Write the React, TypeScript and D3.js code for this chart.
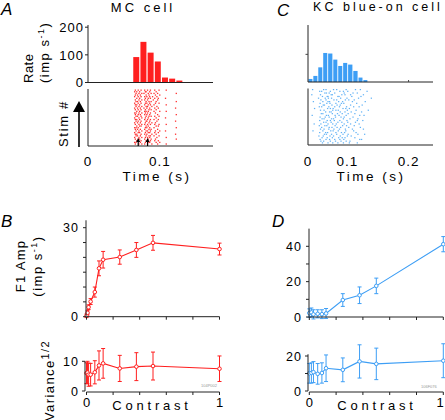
import React from "react";
import * as d3 from "d3";

const FONT = "'Liberation Sans', Arial, Helvetica, sans-serif";
const RED = "#ff1f1f";
const BLUE = "#3d9ef5";

// ---------- Panel A: MC cell, PSTH + raster ----------
const mcBinStart = [0.063, 0.073, 0.083, 0.093, 0.103, 0.113, 0.123];
const mcBinWidth = 0.01;
const mcRate = [92, 147, 108, 76, 18, 14, 7];
const rateTicks = [0, 100, 200];
const aTimeTicks = [0, 0.1];
const mcArrows = [0.0699, 0.0829];
// spike times (ms) for each stimulus repeat
const mcRaster: number[][] = [
  [65, 69, 73, 78, 82, 86, 92, 98, 108],
  [64, 67, 71, 79, 80, 85, 94],
  [66, 70, 74, 77, 83, 87, 91, 96, 122],
  [65, 68, 72, 80, 84, 93, 99],
  [64, 69, 73, 78, 81, 85, 89, 95],
  [67, 71, 79, 83, 86, 92, 97, 107],
  [65, 70, 74, 78, 82, 90, 96],
  [66, 68, 72, 80, 84, 87, 94, 122],
  [64, 69, 73, 79, 81, 85, 93, 98],
  [65, 67, 71, 78, 83, 86, 91, 108],
  [66, 70, 74, 80, 82, 88, 95],
  [64, 68, 72, 77, 81, 85, 92, 97, 121],
  [65, 69, 73, 79, 84, 87, 94],
  [67, 71, 78, 80, 83, 91, 99, 108],
  [64, 66, 70, 74, 79, 82, 86, 93],
  [65, 69, 72, 78, 81, 85, 96, 122],
  [66, 68, 73, 80, 84, 87, 92, 98],
  [64, 70, 74, 79, 83, 94, 107],
  [65, 67, 71, 78, 82, 86, 91, 97],
  [66, 69, 73, 80, 81, 85, 95, 121],
  [64, 68, 72, 79, 84, 88, 93],
  [65, 70, 74, 78, 82, 86, 92, 98, 108],
  [67, 71, 73, 80, 83, 94, 97],
  [64, 66, 69, 79, 81, 85, 91, 122],
  [65, 68, 72, 78, 84, 87, 96],
  [66, 70, 74, 80, 82, 86, 93, 99, 107],
  [64, 69, 71, 79, 83, 85, 92, 97],
  [65, 67, 73, 78, 81, 88, 94, 121],
  [66, 68, 72, 80, 84, 86, 91, 98],
  [64, 70, 74, 79, 82, 85, 95, 108],
  [65, 69, 71, 78, 83, 87, 93, 122],
  [67, 68, 73, 80, 81, 86, 92, 97],
  [64, 66, 72, 79, 84, 85, 94, 99],
  [65, 70, 74, 78, 82, 88, 96, 108],
];

// ---------- Panel C: KC blue-on cell ----------
const kcBinEdges = [0.001, 0.0135, 0.026, 0.0385, 0.051, 0.064, 0.0765, 0.089, 0.101, 0.1095, 0.118, 0.126, 0.134];
const kcRate = [11, 22, 53, 105, 103, 81, 58, 69, 63, 40, 16, 7];
const cRateTicks = [100];
const cTimeTicks = [0, 0.1, 0.2];
const kcRaster: number[][] = [
  [10, 38, 44, 63, 71, 95, 112, 120],
  [28, 33, 55, 79, 88, 99, 131],
  [41, 45, 52, 66, 90, 108, 115],
  [8, 30, 57, 60, 84, 92, 104, 125],
  [35, 47, 49, 74, 77, 106, 121],
  [25, 42, 50, 58, 81, 97, 117, 138],
  [31, 44, 64, 71, 93, 101, 110],
  [12, 36, 49, 53, 76, 86, 107, 128],
  [29, 46, 54, 69, 83, 89, 114],
  [37, 40, 59, 72, 80, 104, 123],
  [27, 33, 51, 66, 78, 96, 109, 118],
  [15, 48, 55, 62, 87, 94, 102],
  [30, 39, 61, 69, 75, 98, 113, 133],
  [43, 53, 57, 80, 92, 105, 122],
  [32, 36, 60, 73, 85, 100, 111],
  [9, 45, 50, 67, 77, 95, 119, 126],
  [29, 42, 52, 68, 82, 90, 108],
  [34, 39, 58, 63, 88, 103, 116],
  [28, 47, 55, 65, 79, 97, 115, 124],
  [38, 44, 57, 74, 84, 99, 112],
  [14, 31, 49, 61, 70, 90, 104, 118],
  [27, 41, 46, 67, 86, 96, 110],
  [33, 52, 59, 72, 81, 101, 120],
  [30, 39, 51, 64, 78, 93, 107, 125],
  [11, 36, 56, 62, 75, 94, 109],
  [28, 43, 48, 69, 83, 91, 113],
  [40, 45, 58, 71, 87, 100, 116, 127],
  [26, 37, 54, 63, 80, 98, 105],
  [34, 47, 60, 76, 85, 92, 111],
  [29, 44, 53, 66, 79, 89, 119, 122],
  [31, 38, 55, 68, 82, 95, 103],
  [35, 49, 61, 74, 88, 102, 115],
];

// ---------- Panel B: MC contrast response ----------
const mcContrast = [0, 0.0078, 0.0156, 0.031, 0.0625, 0.094, 0.125, 0.25, 0.375, 0.5, 1];
const mcF1 = [0.3, 1.3, 3.2, 5.1, 8.3, 16.3, 19.2, 20.1, 22.5, 24.9, 22.8];
const mcF1Err = [0.6, 0.7, 0.8, 1.0, 1.7, 2.5, 2.8, 2.4, 2.5, 2.5, 2.0];
const mcSd = [6.0, 6.2, 5.5, 5.5, 6.3, 8.6, 9.3, 7.6, 8.2, 8.4, 7.5];
const mcSdErr = [3.5, 3.8, 3.9, 3.8, 3.9, 4.9, 5.0, 4.4, 4.7, 4.7, 4.3];
const bF1Ticks = [0, 5, 10, 15, 20, 25, 30];
const bF1Labels = [0, 30];
const bSdTicks = [0, 10];
const contrastTicks = [0, 0.2, 0.4, 0.6, 0.8, 1];
const contrastLabels = [0, 1];

// ---------- Panel D: KC contrast response ----------
const kcContrast = [0, 0.0156, 0.031, 0.0625, 0.094, 0.125, 0.25, 0.375, 0.5, 1];
const kcF1 = [2.2, 2.6, 1.5, 1.8, 1.6, 2.0, 9.6, 12.3, 17.6, 41.2];
const kcF1Err = [2.4, 2.5, 2.6, 2.3, 2.5, 2.8, 3.6, 4.7, 4.4, 4.3];
const kcSd = [10.1, 10.3, 10.8, 9.8, 10.3, 13.0, 12.1, 16.9, 15.5, 17.3];
const kcSdErr = [5.6, 5.8, 6.0, 5.9, 5.8, 7.6, 6.8, 9.5, 9.0, 9.7];
const dF1Ticks = [0, 10, 20, 30, 40];
const dF1Labels = [0, 20, 40];
const dSdTicks = [0, 10, 20];
const dSdLabels = [0, 20];

// ---------- scales ----------
const xA = d3.scaleLinear().domain([0, 0.174]).range([88, 213]);
const yRate = d3.scaleLinear().domain([0, 200]).range([82.5, 27.2]);
const yRasterA = d3.scaleBand<number>().domain(d3.range(mcRaster.length)).range([89.5, 145]);
const xC = d3.scaleLinear().domain([0, 0.1, 0.24]).range([308, 347.5, 433]);
const yRateC = d3.scaleLinear().domain([0, 200]).range([82, 26.7]);
const yRasterC = d3.scaleBand<number>().domain(d3.range(kcRaster.length)).range([89, 144]);

const xB = d3.scaleLinear().domain([0, 1]).range([86.5, 219.5]);
const yB1 = d3.scaleLinear().domain([0, 30]).range([316.7, 227.7]);
const yB2 = d3.scaleLinear().domain([0, 10]).range([391, 361.3]);
const xD = d3.scaleLinear().domain([0, 1]).range([309.3, 443.3]);
const yD1 = d3.scaleLinear().domain([0, 40]).range([317, 246.3]);
const yD2 = d3.scaleLinear().domain([0, 20]).range([391, 356]);

type Sc = d3.ScaleLinear<number, number>;

function ErrPlot({ xs, ys, es, x, y, color }: { xs: number[]; ys: number[]; es: number[]; x: Sc; y: Sc; color: string }) {
  const line = d3.line<number>().x((_, i) => x(xs[i])).y((d) => y(d));
  return (
    <g>
      <path d={line(ys) || ""} fill="none" stroke={color} strokeWidth={1.1} />
      {ys.map((v, i) => {
        const cx = x(xs[i]);
        const lo = y(v - es[i]);
        const hi = y(v + es[i]);
        return (
          <g key={i} stroke={color} strokeWidth={1}>
            <line x1={cx} x2={cx} y1={lo} y2={hi} />
            <line x1={cx - 2} x2={cx + 2} y1={lo} y2={lo} />
            <line x1={cx - 2} x2={cx + 2} y1={hi} y2={hi} />
          </g>
        );
      })}
      {ys.map((v, i) => (
        <circle key={"c" + i} cx={x(xs[i])} cy={y(v)} r={1.8} fill="#fff" stroke={color} strokeWidth={1} />
      ))}
    </g>
  );
}

function YAxis({ x, y, top, ticks, labels, labelX }: { x: number; y: Sc; top: number; ticks: number[]; labels: number[]; labelX: number }) {
  return (
    <g>
      <line x1={x} x2={x} y1={y(0)} y2={y(top)} stroke="#222" strokeWidth={1} />
      {ticks.map((t) => (
        <line key={t} x1={x - 3} x2={x} y1={y(t)} y2={y(t)} stroke="#222" strokeWidth={1} />
      ))}
      {labels.map((t) => (
        <text key={"l" + t} x={labelX} y={y(t)} dy="0.36em" textAnchor="end" fontSize={12.5} letterSpacing={1}>
          {t}
        </text>
      ))}
    </g>
  );
}

function XAxis({ x, yPos, ticks }: { x: Sc; yPos: number; ticks: number[] }) {
  return (
    <g stroke="#222" strokeWidth={1}>
      <line x1={x(0)} x2={x(1)} y1={yPos} y2={yPos} />
      {ticks.map((t) => (
        <line key={t} x1={x(t)} x2={x(t)} y1={yPos} y2={yPos + 3} />
      ))}
    </g>
  );
}

export default function App() {
  return (
    <svg width={445} height={420} style={{ position: "absolute", left: 0, top: 0, background: "#fff" }} fontFamily={FONT}>
      <rect width={445} height={420} fill="#fff" />

      {/* Panel letters */}
      <g fontSize={17} fontStyle="italic">
        <text x={1} y={15}>A</text>
        <text x={277} y={16}>C</text>
        <text x={1} y={227}>B</text>
        <text x={272} y={227}>D</text>
      </g>

      {/* Titles */}
      <text x={143} y={11.5} textAnchor="middle" fontSize={13} letterSpacing={3}>MC cell</text>
      <text x={378} y={11} textAnchor="middle" fontSize={12.5} letterSpacing={3}>KC blue-on cell</text>

      {/* ===== Panel A ===== */}
      {mcRate.map((r, i) => (
        <rect key={i} x={xA(mcBinStart[i])} width={xA(mcBinStart[i] + mcBinWidth) - xA(mcBinStart[i]) - 1.2} y={yRate(r)} height={yRate(0) - yRate(r)} fill={RED} />
      ))}
      <line x1={88} x2={88} y1={yRate(0)} y2={yRate(208)} stroke="#222" />
      <line x1={88} x2={xA(0.174)} y1={yRate(0)} y2={yRate(0)} stroke="#222" />
      {rateTicks.map((t) => (
        <g key={t}>
          <line x1={85} x2={88} y1={yRate(t)} y2={yRate(t)} stroke="#222" />
          <text x={84} y={yRate(t)} dy="0.36em" textAnchor="end" fontSize={13} letterSpacing={1}>{t}</text>
        </g>
      ))}
      <text transform="translate(33,83) rotate(-90)" fontSize={13} letterSpacing={0.5}>Rate</text>
      <text transform="translate(49,83) rotate(-90)" fontSize={13} letterSpacing={1.5}>
        (imp s<tspan dy={-5} fontSize={9}>-1</tspan><tspan dy={5}>)</tspan>
      </text>

      {mcRaster.map((row, r) =>
        row.map((ms, k) => (
          <rect key={r + "-" + k} x={xA(ms / 1000)} y={yRasterA(r)!} width={1.3} height={1.3} fill="#ff3030" />
        ))
      )}
      <line x1={88} x2={88} y1={89} y2={146} stroke="#222" />
      <line x1={88} x2={xA(0.174)} y1={146} y2={146} stroke="#222" />
      {mcArrows.map((t) => (
        <g key={t}>
          <line x1={xA(t)} x2={xA(t)} y1={146} y2={141} stroke="#000" strokeWidth={1.2} />
          <path d={`M${xA(t) - 2},${142} L${xA(t) + 2},${142} L${xA(t)},${138} Z`} fill="#000" />
        </g>
      ))}
      <text transform="translate(68,147) rotate(-90)" fontSize={13} letterSpacing={1.7}>Stim #</text>
      <line x1={79} x2={79} y1={147} y2={110} stroke="#000" strokeWidth={1.6} />
      <path d="M73,112 L85,112 L79,101 Z" fill="#000" />
      {aTimeTicks.map((t) => (
        <text key={t} x={xA(t)} y={166} textAnchor="middle" fontSize={13.5} letterSpacing={1}>{String(t)}</text>
      ))}
      <text x={157} y={181} textAnchor="middle" fontSize={13.5} letterSpacing={2.5}>Time (s)</text>

      {/* ===== Panel C ===== */}
      {kcRate.map((r, i) => (
        <rect key={i} x={xC(kcBinEdges[i])} width={xC(kcBinEdges[i + 1]) - xC(kcBinEdges[i]) - 0.9} y={yRateC(r)} height={yRateC(0) - yRateC(r)} fill={BLUE} />
      ))}
      <line x1={308} x2={308} y1={yRateC(0)} y2={yRateC(206)} stroke="#222" />
      <line x1={308} x2={xC(0.24)} y1={yRateC(0)} y2={yRateC(0)} stroke="#222" />
      {cRateTicks.map((t) => (
        <line key={t} x1={305.5} x2={308} y1={yRateC(t)} y2={yRateC(t)} stroke="#444" />
      ))}
      <line x1={xC(0.2)} x2={xC(0.2)} y1={yRateC(0)} y2={yRateC(0) - 2} stroke="#444" />
      {kcRaster.map((row, r) =>
        row.map((ms, k) => (
          <rect key={r + "-" + k} x={xC(ms / 1000)} y={yRasterC(r)!} width={1.3} height={1.2} fill="#62b2f5" />
        ))
      )}
      <line x1={308} x2={308} y1={88.5} y2={145} stroke="#222" />
      <line x1={308} x2={xC(0.24)} y1={145} y2={145} stroke="#222" />
      {cTimeTicks.map((t) => (
        <text key={t} x={xC(t)} y={165.5} textAnchor="middle" fontSize={13.5} letterSpacing={1}>{String(t)}</text>
      ))}
      <text x={371} y={181} textAnchor="middle" fontSize={13.5} letterSpacing={2.5}>Time (s)</text>

      {/* ===== Panel B ===== */}
      <ErrPlot xs={mcContrast} ys={mcF1} es={mcF1Err} x={xB} y={yB1} color={RED} />
      <YAxis x={86} y={yB1} top={32.5} ticks={bF1Ticks} labels={bF1Labels} labelX={79} />
      <XAxis x={xB} yPos={yB1(0)} ticks={contrastTicks} />
      <text transform="translate(25,266) rotate(-90)" textAnchor="middle" fontSize={13} letterSpacing={1.3}>F1 Amp</text>
      <text transform="translate(42,266) rotate(-90)" textAnchor="middle" fontSize={13} letterSpacing={1.5}>
        (imp s<tspan dy={-5} fontSize={9}>-1</tspan><tspan dy={5}>)</tspan>
      </text>

      <ErrPlot xs={mcContrast} ys={mcSd} es={mcSdErr} x={xB} y={yB2} color={RED} />
      <YAxis x={85} y={yB2} top={10} ticks={bSdTicks} labels={bSdTicks} labelX={79} />
      <XAxis x={xB} yPos={yB2(0) + 1} ticks={contrastTicks} />
      <text transform="translate(53.5,421) rotate(-90)" fontSize={13} letterSpacing={1.4}>
        Variance<tspan dy={-5} fontSize={11}>1/2</tspan>
      </text>
      {contrastLabels.map((t) => (
        <text key={t} x={xB(t)} y={407} textAnchor="middle" fontSize={13}>{t}</text>
      ))}
      <text x={152} y={410} textAnchor="middle" fontSize={13} letterSpacing={3.8}>Contrast</text>
      <text x={201} y={387} fontSize={4} fill="#999">104P002</text>

      {/* ===== Panel D ===== */}
      <ErrPlot xs={kcContrast} ys={kcF1} es={kcF1Err} x={xD} y={yD1} color={BLUE} />
      <YAxis x={309} y={yD1} top={50} ticks={dF1Ticks} labels={dF1Labels} labelX={302} />
      <XAxis x={xD} yPos={yD1(0)} ticks={contrastTicks} />

      <ErrPlot xs={kcContrast} ys={kcSd} es={kcSdErr} x={xD} y={yD2} color={BLUE} />
      <YAxis x={308} y={yD2} top={21} ticks={dSdTicks} labels={dSdLabels} labelX={302} />
      <XAxis x={xD} yPos={yD2(0) + 1} ticks={contrastTicks} />
      {contrastLabels.map((t) => (
        <text key={t} x={Math.min(xD(t), 440)} y={407} textAnchor="middle" fontSize={13}>{t}</text>
      ))}
      <text x={377} y={410} textAnchor="middle" fontSize={13} letterSpacing={3.8}>Contrast</text>
      <text x={421} y={388} fontSize={4} fill="#999">106F076</text>
    </svg>
  );
}
